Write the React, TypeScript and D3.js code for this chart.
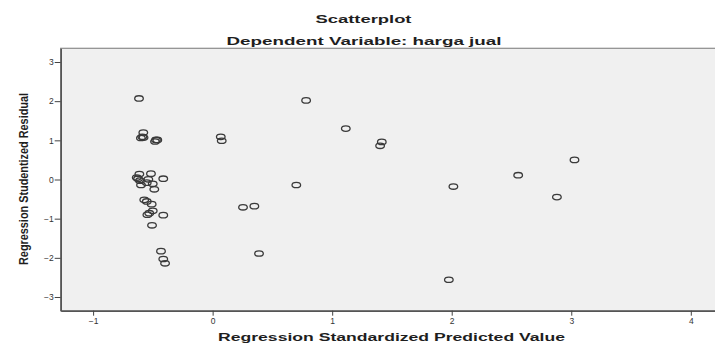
import React, { useEffect, useRef } from "react";
import * as d3 from "d3";

// Regression standardized predicted value (x) vs studentized residual (y)
const predicted = [
  -0.616, -0.58, -0.588, -0.6, -0.578, -0.474, -0.463, -0.482,
  -0.613, -0.516, -0.635, -0.624, -0.608, -0.538, -0.413, -0.599,
  -0.551, -0.501, -0.488, -0.572, -0.551, -0.51, -0.501, -0.53,
  -0.546, -0.413, -0.507, -0.432, -0.413, -0.398,
  0.782, 0.068, 0.076, 1.114, 1.415, 1.401, 0.7, 2.014, 0.254,
  0.349, 0.388, 1.976, 3.027, 2.556, 2.88,
];
const residual = [
  2.07, 1.2, 1.09, 1.06, 1.07, 1.01, 1.01, 0.97,
  0.14, 0.15, 0.05, 0.02, -0.03, 0.005, 0.02, -0.14,
  -0.08, -0.11, -0.25, -0.52, -0.56, -0.63, -0.8, -0.86,
  -0.9, -0.91, -1.17, -1.83, -2.03, -2.14,
  2.02, 1.09, 0.99, 1.3, 0.96, 0.86, -0.14, -0.18, -0.71,
  -0.68, -1.89, -2.56, 0.5, 0.11, -0.45,
];
const xTicks = [-1, 0, 1, 2, 3, 4];
const yTicks = [-3, -2, -1, 0, 1, 2, 3];

export default function App() {
  const svgRef = useRef<SVGSVGElement>(null);

  useEffect(() => {
    if (!svgRef.current) return;
    const width = 715;
    const height = 343;
    const left = 60.7;
    const right = 722;
    const top = 48.3;
    const bottom = 310.7;

    const svg = d3.select(svgRef.current);
    svg.selectAll("*").remove();

    const x = d3.scaleLinear().domain([-1.271, 4.261]).range([left, right]);
    const y = d3.scaleLinear().domain([-3.35, 3.35]).range([bottom, top]);

    svg.attr("width", width).attr("height", height);

    svg
      .append("rect")
      .attr("x", left)
      .attr("y", top)
      .attr("width", right - left)
      .attr("height", bottom - top)
      .attr("fill", "#f0f0f0")
      .attr("stroke", "#8c8c8c")
      .attr("stroke-width", 1.2);

    const font = "Liberation Sans, Arial, sans-serif";

    const gx = svg
      .append("g")
      .attr("transform", `translate(0,${bottom})`)
      .call(
        d3.axisBottom(x).tickValues(xTicks).tickSize(5).tickSizeOuter(0).tickPadding(2).tickFormat(d3.format("d"))
      );
    gx.select(".domain").attr("stroke", "#555").attr("stroke-width", 1.6);
    gx.selectAll(".tick line").attr("stroke", "#444");
    gx.selectAll(".tick text")
      .attr("font-family", font)
      .attr("font-size", 8.5)
      .attr("fill", "#333");

    const gy = svg
      .append("g")
      .attr("transform", `translate(${left},0)`)
      .call(
        d3.axisLeft(y).tickValues(yTicks).tickSize(6).tickSizeOuter(0).tickPadding(1).tickFormat(d3.format("d"))
      );
    gy.select(".domain").attr("stroke", "#555").attr("stroke-width", 1.6);
    gy.selectAll(".tick line").attr("stroke", "#444");
    gy.selectAll(".tick text")
      .attr("font-family", font)
      .attr("font-size", 8.5)
      .attr("fill", "#333");

    svg
      .append("g")
      .selectAll("ellipse")
      .data(predicted.map((p, i) => [p, residual[i]]))
      .join("ellipse")
      .attr("cx", (d) => x(d[0]))
      .attr("cy", (d) => y(d[1]))
      .attr("rx", 4.3)
      .attr("ry", 2.7)
      .attr("fill", "none")
      .attr("stroke", "#3a3a3a")
      .attr("stroke-width", 1.3);

    const label = (
      txt: string,
      cx: number,
      cy: number,
      size: number,
      len: number,
      family = font,
      transform?: string
    ) =>
      svg
        .append("text")
        .attr("x", transform ? 0 : cx)
        .attr("y", transform ? 0 : cy)
        .attr("transform", transform ?? null)
        .attr("text-anchor", "middle")
        .attr("font-family", family)
        .attr("font-weight", "bold")
        .attr("font-size", size)
        .attr("fill", "#1e1e1e")
        .attr("textLength", len)
        .attr("lengthAdjust", "spacingAndGlyphs")
        .text(txt);

    label("Scatterplot", 363.5, 22.7, 11, 96);
    label("Dependent Variable: harga jual", 364, 45, 11, 275);
    label("Regression Standardized Predicted Value", 391.5, 341, 11.5, 347);
    label(
      "Regression Studentized Residual",
      0,
      0,
      12.5,
      172,
      "Liberation Sans Narrow, Arial Narrow, sans-serif",
      "translate(28,179) rotate(-90)"
    );
  }, []);

  return (
    <svg
      ref={svgRef}
      style={{ position: "absolute", left: 0, top: 0, background: "#fff" }}
    />
  );
}
